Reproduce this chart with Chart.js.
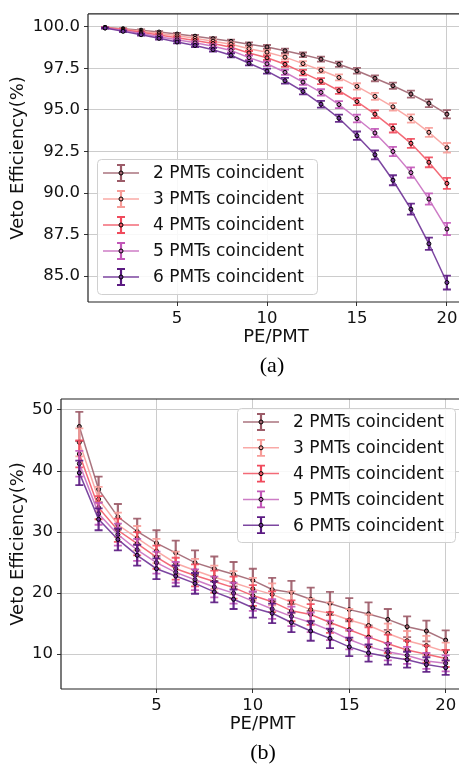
<!DOCTYPE html>
<html lang="en">
<head>
    <meta charset="UTF-8">
    <title>Veto Efficiency</title>
    <script src="https://cdn.jsdelivr.net/npm/chart.js"></script>
    <style>
        body { margin: 0; background: #fff; }
        #page { width: 459px; height: 765px; position: relative; overflow: hidden; }
        canvas { position: absolute; left: 0; }
        #c1 { top: 0; }
        #c2 { top: 385px; }
        .cap { position: absolute; font-family: "Liberation Serif", serif; font-size: 22px; transform: translate(-50%, -50%); }
    </style>
</head>
<body>
<div id="page">
    <canvas id="c1" width="469" height="385"></canvas>
    <canvas id="c2" width="469" height="380"></canvas>
    <div class="cap" style="left:272px; top:365px;">(a)</div>
    <div class="cap" style="left:263px; top:752px;">(b)</div>
</div>

    <script>
        // PE/PMT threshold
        const pe = [1, 2, 3, 4, 5, 6, 7, 8, 9, 10, 11, 12, 13, 14, 15, 16, 17, 18, 19, 20];
        const labels = ['2 PMTs coincident', '3 PMTs coincident', '4 PMTs coincident', '5 PMTs coincident', '6 PMTs coincident'];

        // (a) veto efficiency (%)
        const a2 = [99.96, 99.88, 99.79, 99.68, 99.56, 99.43, 99.28, 99.12, 98.95, 98.78, 98.55, 98.31, 98.05, 97.74, 97.35, 96.90, 96.45, 95.95, 95.40, 94.74];
        const a3 = [99.95, 99.85, 99.73, 99.59, 99.45, 99.30, 99.13, 98.95, 98.68, 98.47, 98.17, 97.78, 97.38, 96.95, 96.41, 95.81, 95.18, 94.48, 93.65, 92.72];
        const a4 = [99.94, 99.81, 99.66, 99.50, 99.33, 99.17, 98.99, 98.77, 98.42, 98.13, 97.74, 97.24, 96.73, 96.15, 95.50, 94.74, 93.89, 92.99, 91.85, 90.58];
        const a5 = [99.93, 99.77, 99.59, 99.40, 99.21, 99.03, 98.83, 98.57, 98.14, 97.77, 97.26, 96.67, 96.05, 95.32, 94.48, 93.61, 92.50, 91.23, 89.64, 87.84];
        const a6 = [99.92, 99.72, 99.52, 99.30, 99.08, 98.87, 98.62, 98.28, 97.80, 97.33, 96.75, 96.11, 95.34, 94.50, 93.45, 92.30, 90.77, 89.03, 86.95, 84.62];
        const ea2 = [0.03, 0.04, 0.05, 0.06, 0.07, 0.08, 0.09, 0.10, 0.11, 0.12, 0.13, 0.14, 0.15, 0.16, 0.17, 0.18, 0.19, 0.21, 0.23, 0.25];
        const ea3 = [0.03, 0.04, 0.05, 0.06, 0.07, 0.08, 0.09, 0.10, 0.11, 0.12, 0.14, 0.15, 0.16, 0.18, 0.19, 0.21, 0.23, 0.25, 0.27, 0.29];
        const ea4 = [0.03, 0.04, 0.05, 0.06, 0.07, 0.08, 0.10, 0.11, 0.12, 0.13, 0.15, 0.16, 0.18, 0.19, 0.21, 0.23, 0.25, 0.27, 0.30, 0.33];
        const ea5 = [0.03, 0.04, 0.05, 0.06, 0.08, 0.09, 0.10, 0.11, 0.13, 0.14, 0.16, 0.17, 0.19, 0.21, 0.23, 0.25, 0.28, 0.31, 0.34, 0.37];
        const ea6 = [0.03, 0.04, 0.05, 0.07, 0.08, 0.09, 0.11, 0.12, 0.13, 0.15, 0.17, 0.18, 0.20, 0.22, 0.25, 0.27, 0.30, 0.33, 0.37, 0.42];

        // (b) veto efficiency (%)
        const b2 = [47.3, 37.0, 32.5, 30.1, 28.2, 26.6, 25.0, 24.0, 23.1, 22.1, 20.6, 20.1, 19.0, 18.3, 17.3, 16.6, 15.7, 14.5, 13.8, 12.3];
        const b3 = [44.7, 35.4, 31.2, 29.0, 26.9, 24.9, 23.7, 22.6, 21.7, 20.7, 19.8, 18.5, 17.3, 16.7, 15.6, 14.7, 13.4, 12.2, 11.4, 10.4];
        const b4 = [42.8, 34.0, 30.3, 28.1, 25.9, 24.0, 22.9, 21.9, 20.9, 19.6, 18.6, 17.1, 16.5, 15.2, 14.0, 12.8, 11.7, 10.7, 10.0, 9.3];
        const b5 = [41.2, 33.0, 29.6, 27.1, 25.0, 23.4, 22.2, 21.0, 20.0, 18.7, 17.4, 16.2, 15.2, 13.9, 12.4, 11.2, 10.4, 9.8, 8.9, 8.5];
        const b6 = [39.7, 32.1, 28.8, 26.2, 24.0, 22.8, 21.6, 20.2, 19.0, 17.6, 16.7, 15.2, 13.8, 12.6, 11.2, 10.2, 9.6, 9.1, 8.3, 7.8];
        const eb2 = [2.4, 2.1, 2.1, 2.1, 2.1, 2.0, 2.0, 2.0, 2.0, 1.9, 1.9, 1.9, 1.9, 1.9, 1.9, 1.9, 1.7, 1.7, 1.7, 1.6];
        const eb3 = [2.3, 2.0, 2.0, 2.0, 2.0, 1.9, 1.9, 1.9, 1.9, 1.8, 1.8, 1.8, 1.8, 1.8, 1.8, 1.8, 1.6, 1.6, 1.6, 1.5];
        const eb4 = [2.2, 1.9, 1.9, 1.9, 1.9, 1.8, 1.8, 1.8, 1.8, 1.7, 1.7, 1.7, 1.7, 1.7, 1.7, 1.6, 1.5, 1.5, 1.4, 1.4];
        const eb5 = [2.1, 1.8, 1.8, 1.8, 1.8, 1.7, 1.7, 1.7, 1.7, 1.6, 1.6, 1.6, 1.6, 1.6, 1.6, 1.5, 1.4, 1.4, 1.3, 1.3];
        const eb6 = [2.0, 1.8, 1.8, 1.7, 1.7, 1.7, 1.7, 1.7, 1.6, 1.6, 1.6, 1.6, 1.6, 1.6, 1.5, 1.4, 1.3, 1.3, 1.2, 1.2];

        const barColors = ['#9c5b68', '#f79c98', '#f04a5c', '#c257b8', '#5b1a82'];
        const lineColors = ['rgba(160,100,112,0.9)', 'rgba(248,160,156,0.9)', 'rgba(242,90,104,0.9)', 'rgba(200,110,192,0.9)', 'rgba(110,50,150,0.9)'];

        const FONT = 'DejaVu Sans';

        function makeSets(vals, errs) {
            return vals.map((v, k) => ({
                label: labels[k],
                data: pe.map((x, i) => ({ x: x, y: v[i] })),
                err: errs[k],
                errColor: barColors[k],
                borderColor: lineColors[k],
                backgroundColor: lineColors[k],
                borderWidth: 1.5,
                pointRadius: 2,
                pointBorderWidth: 1,
                pointBorderColor: '#000',
                pointBackgroundColor: lineColors[k],
                order: 5 - k
            }));
        }

        // draw error bars under each series' line
        const errorBars = {
            id: 'errorBars',
            beforeDatasetDraw(chart, args) {
                const ds = chart.data.datasets[args.index];
                const ctx = chart.ctx, xs = chart.scales.x, ys = chart.scales.y;
                ctx.save();
                ctx.strokeStyle = ds.errColor;
                ctx.globalAlpha = 0.9;
                ds.data.forEach((p, i) => {
                    const x = xs.getPixelForValue(p.x);
                    const lo = ys.getPixelForValue(p.y - ds.err[i]);
                    const hi = ys.getPixelForValue(p.y + ds.err[i]);
                    ctx.lineWidth = 2.2;
                    ctx.beginPath(); ctx.moveTo(x, lo); ctx.lineTo(x, hi); ctx.stroke();
                    ctx.lineWidth = 1.8;
                    ctx.beginPath();
                    ctx.moveTo(x - 4, lo); ctx.lineTo(x + 4, lo);
                    ctx.moveTo(x - 4, hi); ctx.lineTo(x + 4, hi);
                    ctx.stroke();
                });
                ctx.restore();
            }
        };

        // matplotlib style frame (right spine falls outside the page)
        const frame = {
            id: 'frame',
            afterDatasetsDraw(chart) {
                const { ctx, chartArea: a } = chart;
                ctx.save();
                ctx.strokeStyle = '#222';
                ctx.lineWidth = 1.2;
                ctx.beginPath();
                ctx.moveTo(a.left, a.top); ctx.lineTo(a.right, a.top);
                ctx.moveTo(a.left, a.top); ctx.lineTo(a.left, a.bottom);
                ctx.moveTo(a.left, a.bottom); ctx.lineTo(a.right, a.bottom);
                ctx.stroke();
                ctx.restore();
            }
        };

        // legend with errorbar handles
        const boxLegend = {
            id: 'boxLegend',
            afterDraw(chart, args, o) {
                const ctx = chart.ctx;
                ctx.save();
                ctx.fillStyle = 'rgba(255,255,255,0.85)';
                ctx.strokeStyle = '#d0d0d0';
                ctx.lineWidth = 1;
                ctx.beginPath();
                ctx.roundRect(o.x + 0.5, o.y + 0.5, o.w, o.h, 4);
                ctx.fill(); ctx.stroke();
                ctx.font = '17px "' + FONT + '"';
                ctx.textBaseline = 'middle';
                chart.data.datasets.forEach((ds, k) => {
                    const y = o.y + o.first + k * o.step;
                    const hx = o.x + 24;
                    ctx.strokeStyle = ds.borderColor; ctx.lineWidth = 1.5;
                    ctx.beginPath(); ctx.moveTo(hx - 18, y); ctx.lineTo(hx + 18, y); ctx.stroke();
                    ctx.strokeStyle = ds.errColor;
                    ctx.lineWidth = 2.2;
                    ctx.beginPath(); ctx.moveTo(hx, y - 8); ctx.lineTo(hx, y + 8); ctx.stroke();
                    ctx.lineWidth = 1.8;
                    ctx.beginPath();
                    ctx.moveTo(hx - 4, y - 8); ctx.lineTo(hx + 4, y - 8);
                    ctx.moveTo(hx - 4, y + 8); ctx.lineTo(hx + 4, y + 8);
                    ctx.stroke();
                    ctx.fillStyle = ds.borderColor; ctx.strokeStyle = '#000'; ctx.lineWidth = 1;
                    ctx.beginPath(); ctx.arc(hx, y, 2, 0, Math.PI * 2); ctx.fill(); ctx.stroke();
                    ctx.fillStyle = '#111';
                    ctx.fillText(ds.label, o.x + 56, y + 1);
                });
                ctx.restore();
            }
        };

        function makeChart(id, sets, y, pad, yW, legend) {
            return new Chart(document.getElementById(id), {
                type: 'line',
                data: { datasets: sets },
                plugins: [errorBars, frame, boxLegend],
                options: {
                    responsive: false,
                    devicePixelRatio: 1,
                    animation: false,
                    layout: { padding: pad },
                    plugins: { legend: { display: false }, tooltip: { enabled: false }, boxLegend: legend },
                    scales: {
                        x: {
                            type: 'linear',
                            min: 0.05, max: 20.95,
                            afterFit: s => { s.height = 50; },
                            grid: { color: '#cccccc', tickColor: '#333', tickLength: 4 },
                            border: { display: false },
                            ticks: { stepSize: 5, includeBounds: false, color: '#111', padding: 3, font: { family: FONT, size: 16.5 } },
                            title: { display: true, text: 'PE/PMT', color: '#111', padding: { top: 0, bottom: 4 }, font: { family: FONT, size: 18 } }
                        },
                        y: {
                            min: y.min, max: y.max,
                            afterFit: s => { s.width = yW; },
                            grid: { color: '#cccccc', tickColor: '#333', tickLength: 4 },
                            border: { display: false },
                            ticks: { stepSize: y.step, includeBounds: false, color: '#111', padding: 4,
                                     callback: v => y.dec ? v.toFixed(1) : v, font: { family: FONT, size: 16.5 } },
                            title: { display: true, text: 'Veto Efficiency(%)', color: '#111', padding: { top: 8, bottom: 0 }, font: { family: FONT, size: 18 } }
                        }
                    }
                }
            });
        }

        makeChart('c1', makeSets([a2, a3, a4, a5, a6], [ea2, ea3, ea4, ea5, ea6]),
            { min: 83.45, max: 100.77, step: 2.5, dec: true },
            { top: 12, right: 0, bottom: 33, left: 0 }, 88,
            { x: 97, y: 159, w: 220, h: 135, first: 14, step: 26 });

        makeChart('c2', makeSets([b2, b3, b4, b5, b6], [eb2, eb3, eb4, eb5, eb6]),
            { min: 4.3, max: 51.8, step: 10, dec: false },
            { top: 14, right: 0, bottom: 26, left: 0 }, 61,
            { x: 237, y: 23, w: 218, h: 134, first: 14, step: 25.8 });
    </script>
</body>
</html>
